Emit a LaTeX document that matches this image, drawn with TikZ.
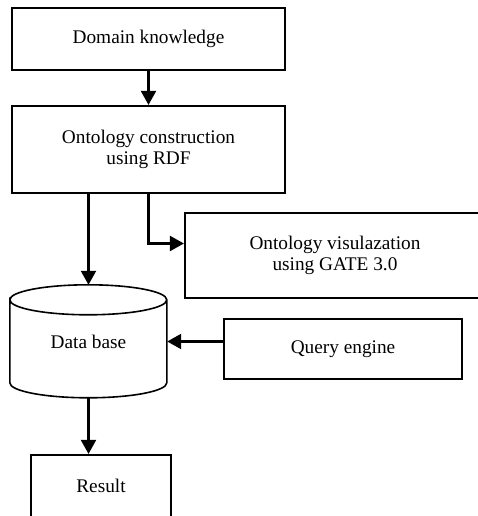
\documentclass[tikz,border=0pt]{standalone}
\usepackage{fontspec}
\setmainfont{Liberation Serif}
\usetikzlibrary{arrows.meta}
\begin{document}
\begin{tikzpicture}[x=1pt,y=1pt,
    every node/.style={font=\fontsize{19.3}{21}\selectfont, align=center},
    block/.style={draw, line width=2.2pt, rectangle},
    flow/.style={line width=2.2pt, -{Triangle[length=14pt,width=15pt]}}]
    \useasboundingbox (0,0) rectangle (478,516);
    \node[block, minimum width=273pt, minimum height=62pt] (dk) at (148.5,477) {Domain knowledge};
    \node[block, minimum width=273pt, minimum height=87pt] (oc) at (148.5,366.5) {Ontology construction\\using RDF};
    \node[block, minimum width=300pt, minimum height=85pt] (vis) at (335,260.5) {Ontology visulazation\\using GATE 3.0};
    \node[minimum width=157pt, minimum height=113pt] (db) at (88.5,174.5) {Data base};
    \node[block, minimum width=238pt, minimum height=60pt] (qe) at (343,167) {Query engine};
    \node[block, minimum width=140pt, minimum height=62pt] (res) at (101,30) {Result};
    % cylinder round the data base
    \draw[line width=1.6pt] (db.north west) ++(0,-15) coordinate (dbtop)
        arc[start angle=180, end angle=-180, x radius=78.5, y radius=15]
        -- ++(0,-83) arc[start angle=180, end angle=360, x radius=78.5, y radius=15]
        -- ++(0,83);
    % connectors
    \draw[flow] (dk.south) -- (oc.north);
    \draw[flow] (oc.south -| db.north) -- (db.north);
    \draw[flow] (oc.south) |- ([yshift=12pt]vis.west);
    \draw[flow] (qe.west |- db.east) -- (db.east);
    \draw[flow] (db.south) -- (db.south |- res.north);
\end{tikzpicture}
\end{document}
